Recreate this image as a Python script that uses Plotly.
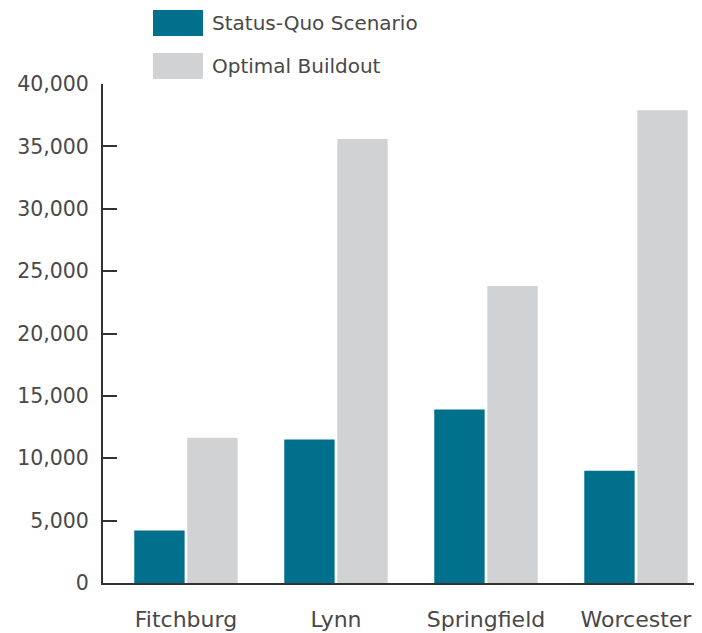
import plotly.graph_objects as go

cities = ["Fitchburg", "Lynn", "Springfield", "Worcester"]
status_quo = [4200, 11500, 13900, 9000]
optimal = [11650, 35600, 23800, 37900]
series_names = ["Status-Quo Scenario", "Optimal Buildout"]
y_ticks = [0, 5000, 10000, 15000, 20000, 25000, 30000, 35000, 40000]
y_tick_labels = ["0", "5,000", "10,000", "15,000", "20,000", "25,000", "30,000", "35,000", "40,000"]

TEAL = "#00708d"
GRAY = "#d1d2d4"
TEXT = "#4a4848"
FONT = "DejaVu Sans"

fig = go.Figure()
fig.add_trace(go.Bar(x=cities, y=status_quo, name=series_names[0],
                     marker=dict(color=TEAL, line=dict(width=0)), showlegend=False))
fig.add_trace(go.Bar(x=cities, y=optimal, name=series_names[1],
                     marker=dict(color=GRAY, line=dict(width=0)), showlegend=False))

# custom legend (large swatches)
for i, (name, col) in enumerate(zip(series_names, [TEAL, GRAY])):
    top = 74 - i * 43
    fig.add_shape(type="rect", xref="paper", yref="paper",
                  xsizemode="pixel", ysizemode="pixel",
                  xanchor=0, yanchor=1,
                  x0=50, x1=100, y0=top - 26, y1=top,
                  fillcolor=col, line=dict(width=0))
    fig.add_annotation(xref="paper", yref="paper", x=0, y=1,
                       xshift=107, yshift=top - 13,
                       xanchor="left", yanchor="middle",
                       text=name, showarrow=False,
                       font=dict(family=FONT, size=20, color=TEXT))

# page body adds an 8px margin, so the figure is sized to the visible area
fig.update_layout(
    width=694, height=625,
    margin=dict(l=95, r=0, t=76, b=50),
    paper_bgcolor="white", plot_bgcolor="white",
    barmode="group", bargap=0.293, bargroupgap=0.05,
    font=dict(family=FONT, color=TEXT),
)
fig.update_xaxes(
    range=[-0.553, 3.44], automargin=False,
    showline=True, linewidth=1.5, linecolor="#333333",
    ticks="", showgrid=False, zeroline=False,
    tickfont=dict(family=FONT, size=22, color=TEXT),
    ticklabelstandoff=16,
)
fig.update_yaxes(
    range=[0, 40000], automargin=False,
    tickvals=y_ticks, ticktext=y_tick_labels,
    showline=True, linewidth=2, linecolor="#333333",
    ticks="inside", ticklen=14, tickwidth=2, tickcolor="#333333",
    showgrid=False, zeroline=False,
    tickfont=dict(family=FONT, size=20.5, color=TEXT),
    ticklabelstandoff=8,
)

fig.write_html("out.html")
